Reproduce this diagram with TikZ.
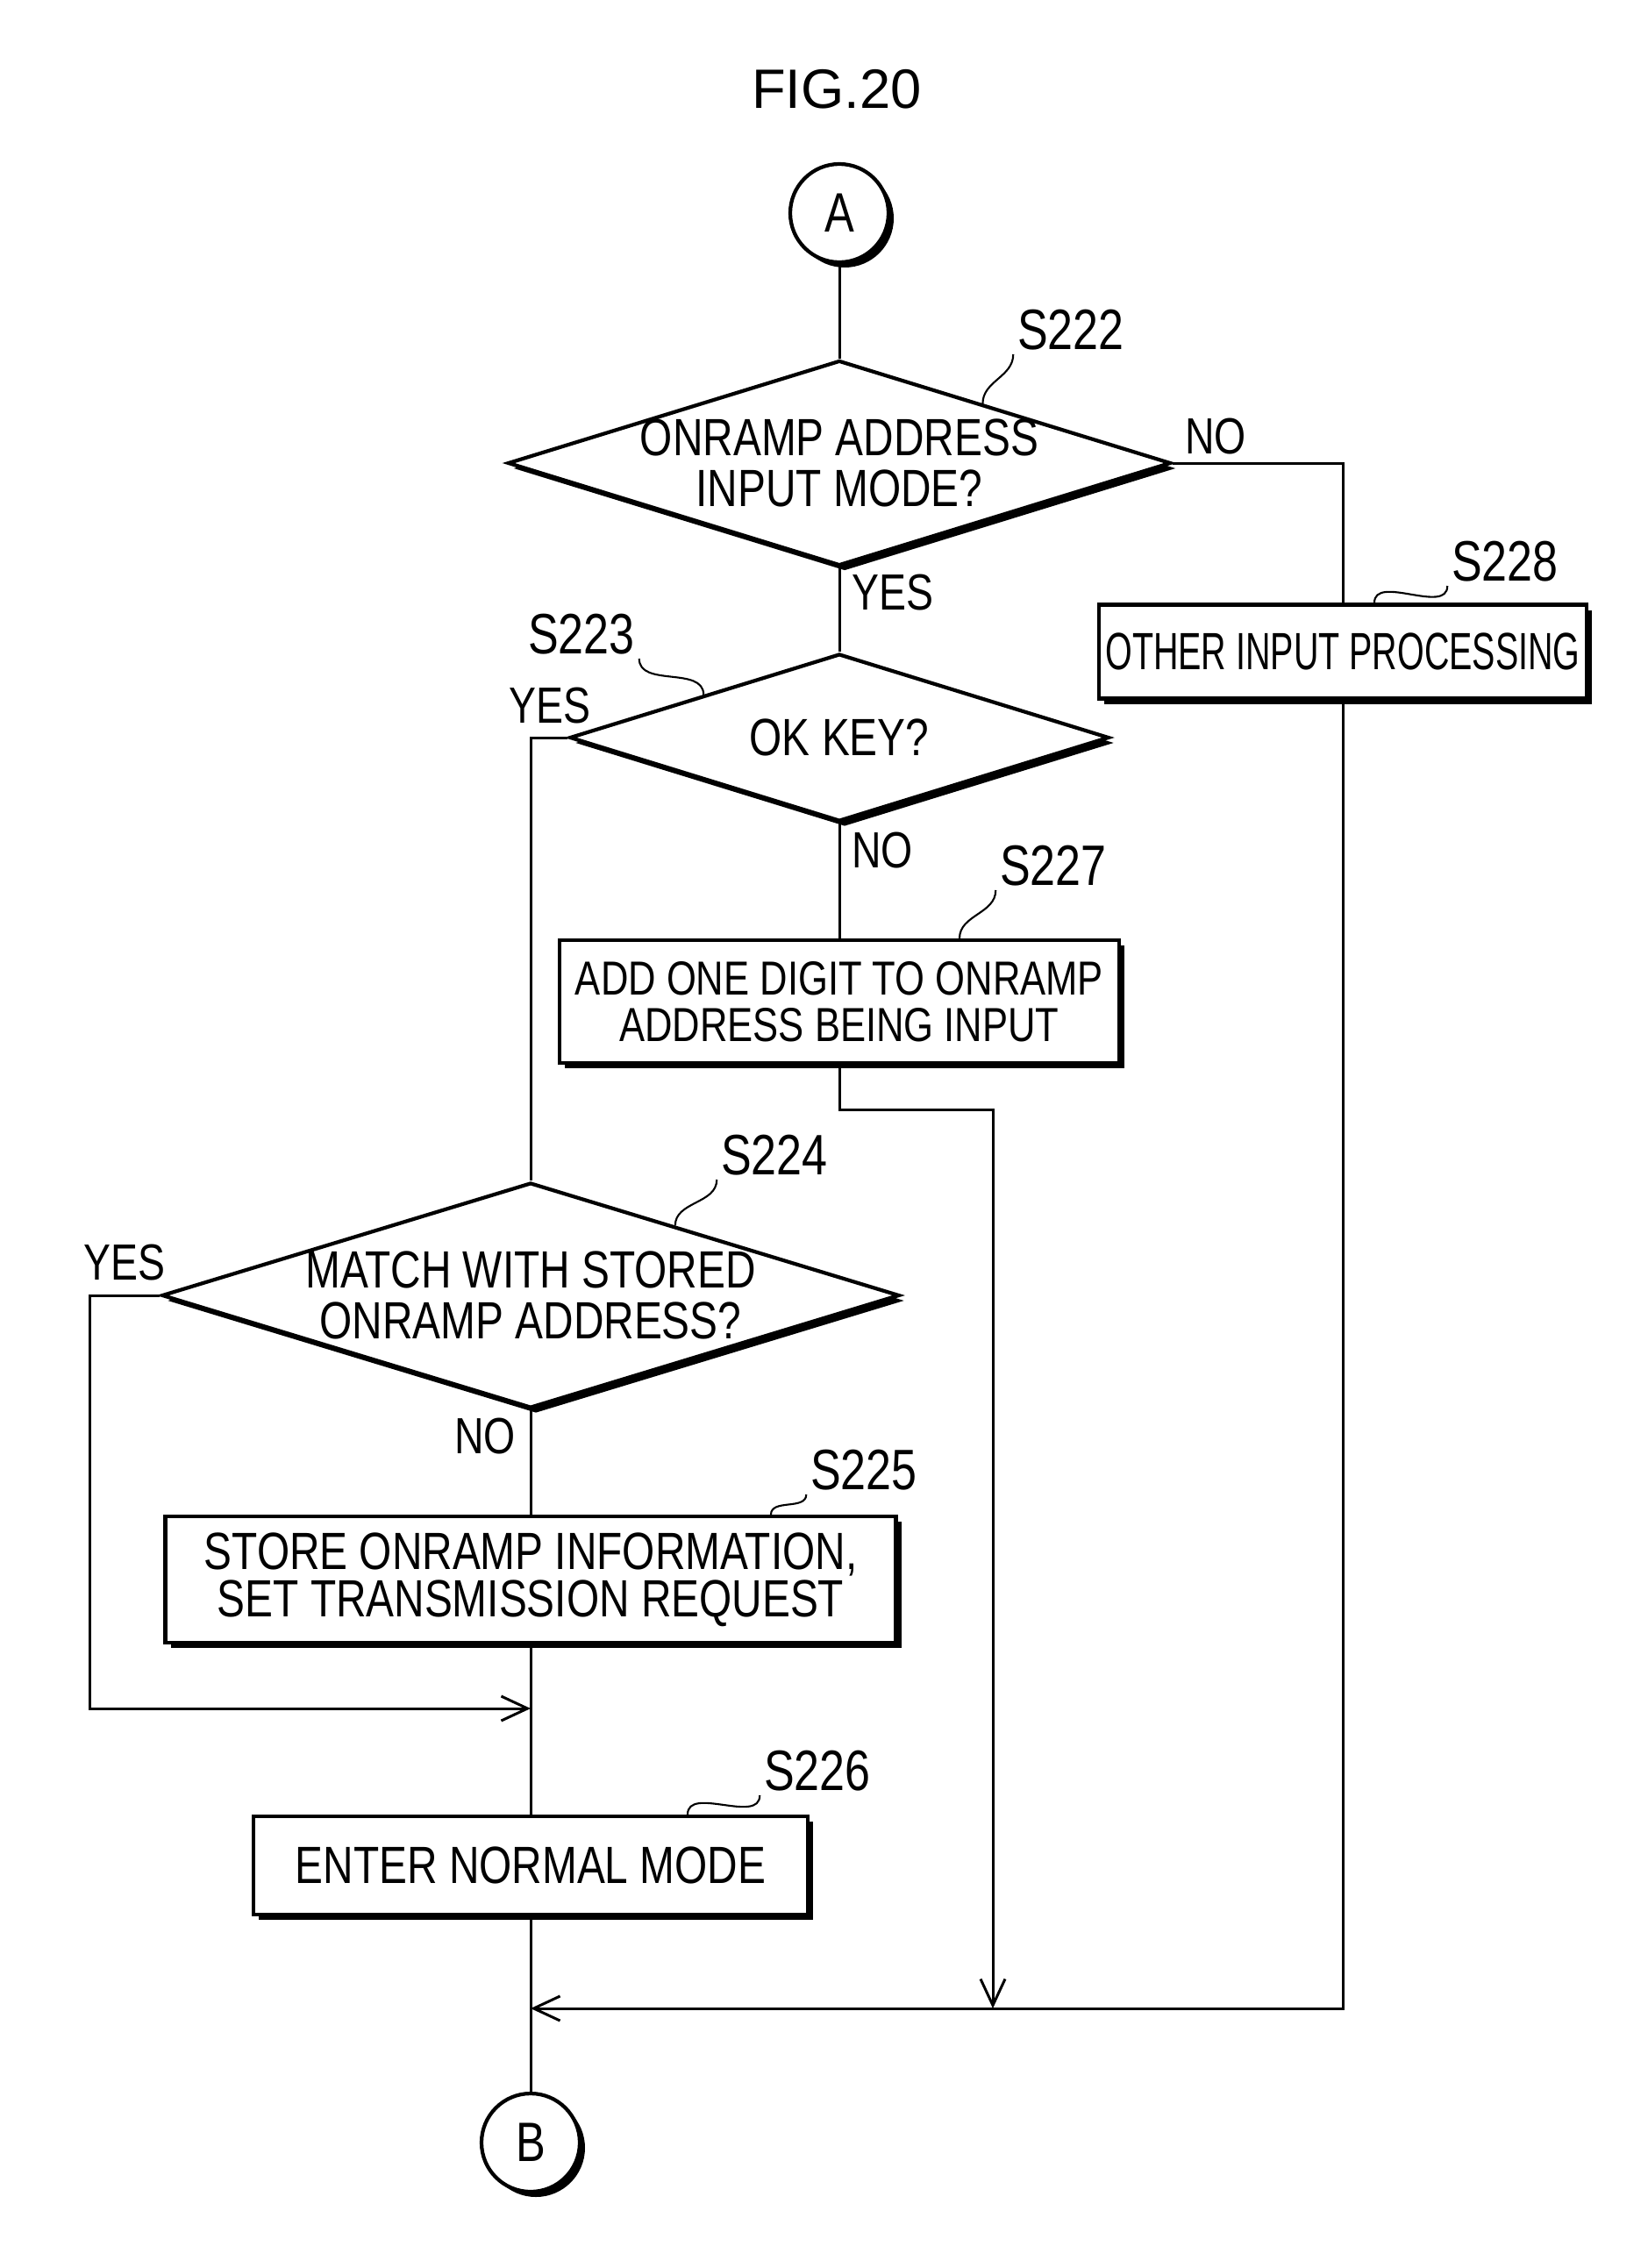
\documentclass[tikz,border=0pt]{standalone}
\usepackage{fontspec}
\setmainfont{Liberation Sans}
\newfontfamily\condfont{Liberation Sans}[FakeStretch=0.8]
\newfontfamily\narrowfont{Liberation Sans}[FakeStretch=0.66]
\usepackage{tikz}
\usetikzlibrary{shapes.geometric}
\usetikzlibrary{shadows}
\usetikzlibrary{arrows.meta}
\usetikzlibrary{positioning}
\usetikzlibrary{calc}

\begin{document}
\begin{tikzpicture}[
        every node/.style={inner sep=0pt},
        line width=0.85pt,
        >={Straight Barb[length=3mm,width=2.8mm]}
        ]
        \tikzset{
            boxshadow/.style={fill=white, draw, line width=1.2pt,
                drop shadow={shadow xshift=0.06cm, shadow yshift=-0.06cm, opacity=1, fill=black}},
            stepbox/.style={boxshadow, rectangle, align=center, font=\condfont\fontsize{17}{15.5}\selectfont},
            decision/.style={boxshadow, diamond, shape aspect=3.2, inner xsep=-3mm, align=center,
                font=\condfont\fontsize{17}{16.5}\selectfont},
            connector/.style={boxshadow, circle, minimum size=1.12cm, font=\condfont\fontsize{18}{18}\selectfont},
            yesno/.style={font=\condfont\fontsize{16.5}{16.5}\selectfont},
            steplabel/.style={inner sep=1pt, font=\condfont\fontsize{18.5}{18.5}\selectfont},
            leader/.style={line width=0.6pt}
        }
        \useasboundingbox (0,0) rectangle (18.79,-25.86);

        \node[font=\fontsize{18}{18}\selectfont] (title) at (9.54,-1.02) {FIG.20};
        \node[connector] (A) at (9.57,-2.43) {A};

        % main column
        \node[decision, minimum width=7.56cm, minimum height=2.34cm] (d222) at (9.57,-5.28) {ONRAMP ADDRESS\\INPUT MODE?};
        \node[decision, minimum width=6.15cm, minimum height=1.91cm] (d223) at (9.57,-8.41) {OK KEY?};
        \node[stepbox, minimum width=6.38cm, minimum height=1.40cm,
            font=\condfont\fontsize{15.5}{15}\selectfont] (b227) at (9.57,-11.42) {ADD ONE DIGIT TO ONRAMP\\ADDRESS BEING INPUT};
        \node[stepbox, minimum width=5.56cm, minimum height=1.07cm,
            font=\narrowfont\fontsize{17}{17}\selectfont] (b228) at (15.31,-7.43) {OTHER INPUT PROCESSING};

        % left column
        \node[decision, minimum width=8.41cm, minimum height=2.57cm] (d224) at (6.05,-14.77) {MATCH WITH STORED\\ONRAMP ADDRESS?};
        \node[stepbox, minimum width=8.33cm, minimum height=1.44cm] (b225) at (6.05,-18.01) {STORE ONRAMP INFORMATION,\\SET TRANSMISSION REQUEST};
        \node[stepbox, minimum width=6.32cm, minimum height=1.12cm] (b226) at (6.05,-21.27) {ENTER NORMAL MODE};
        \node[connector] (B) at (6.05,-24.43) {B};

        \coordinate (m1) at (6.05,-22.90);
        \coordinate (m2) at (11.32,-22.90);
        \coordinate (m3) at (6.05,-19.48);

        % flow lines
        \draw (A) -- (d222);
        \draw (d222) -- (d223);
        \draw (d222.east) -| (b228.north);
        \draw[->] (b228.south) |- (m1);
        \draw (d223) -- (b227);
        \draw[->] (b227.south) -- ++(0,-0.51) -| (m2);
        \draw (d223.west) -| (d224.north);
        \draw (d224) -- (b225);
        \draw[->] (d224.west) -- ++(-0.8,0) |- (m3);
        \draw (b225) -- (b226);
        \draw (b226) -- (B);

        % branch labels
        \node[yesno] (no222) at (13.86,-4.98) {NO};
        \node[yesno] (yes222) at (10.18,-6.76) {YES};
        \node[yesno] (yes223) at (6.27,-8.05) {YES};
        \node[yesno] (no223) at (10.06,-9.70) {NO};
        \node[yesno] (yes224) at (1.42,-14.40) {YES};
        \node[yesno] (no224) at (5.53,-16.38) {NO};

        % step numbers
        \node[steplabel] (l222) at (12.21,-3.76) {S222};
        \node[steplabel] (l223) at (6.63,-7.23) {S223};
        \node[steplabel] (l227) at (12.01,-9.87) {S227};
        \node[steplabel] (l228) at (17.16,-6.40) {S228};
        \node[steplabel] (l224) at (8.83,-13.17) {S224};
        \node[steplabel] (l225) at (9.85,-16.76) {S225};
        \node[steplabel] (l226) at (9.32,-20.19) {S226};

        \draw[leader] ($(d222.north)!0.43!(d222.east)$) to[out=90,in=-90] (l222.south west);
        \draw[leader] ($(d223.west)!0.5!(d223.north)$) to[out=90,in=-90] (l223.south east);
        \draw[leader] (10.94,0 |- b227.north) to[out=90,in=-90] (l227.south west);
        \draw[leader] (15.67,0 |- b228.north) to[out=90,in=-90] (l228.south west);
        \draw[leader] ($(d224.north)!0.39!(d224.east)$) to[out=90,in=-90] (l224.south west);
        \draw[leader] (8.79,0 |- b225.north) to[out=90,in=-90] (l225.south west);
        \draw[leader] (7.84,0 |- b226.north) to[out=90,in=-90] (l226.south west);
\end{tikzpicture}
\end{document}
